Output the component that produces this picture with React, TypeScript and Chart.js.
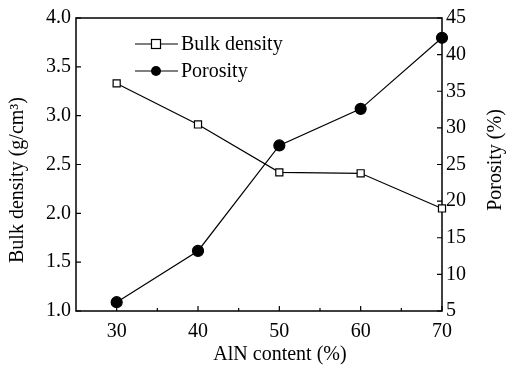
import React, { useEffect, useRef } from "react";
import { Chart, registerables } from "chart.js";

Chart.register(...registerables);

const aln = [30, 40, 50, 60, 70];
const bulkDensity = [3.33, 2.91, 2.42, 2.41, 2.05];
const porosity = [6.2, 13.2, 27.6, 32.6, 42.3];
const leftTicks = [1.0, 1.5, 2.0, 2.5, 3.0, 3.5, 4.0];
const rightTicks = [5, 10, 15, 20, 25, 30, 35, 40, 45];
const xTicks = [30, 40, 50, 60, 70];
const xMinorTicks = [35, 45, 55, 65];

const FONT = "'Liberation Serif', 'Times New Roman', serif";

const framePlugin = {
  id: "frame",
  beforeDatasetsDraw(chart: any) {
    const ctx = chart.ctx;
    const { left, right, top, bottom } = chart.chartArea;
    const sx = chart.scales.x;
    const sy = chart.scales.y;
    const sy2 = chart.scales.y2;
    ctx.save();
    ctx.strokeStyle = "#000";
    ctx.lineWidth = 1.5;
    ctx.strokeRect(left, top, right - left, bottom - top);
    ctx.lineWidth = 1.2;
    ctx.beginPath();
    xTicks.forEach((v) => {
      const x = sx.getPixelForValue(v);
      ctx.moveTo(x, bottom);
      ctx.lineTo(x, bottom - 5);
    });
    xMinorTicks.forEach((v) => {
      const x = sx.getPixelForValue(v);
      ctx.moveTo(x, bottom);
      ctx.lineTo(x, bottom - 3);
    });
    leftTicks.forEach((v) => {
      const y = sy.getPixelForValue(v);
      ctx.moveTo(left, y);
      ctx.lineTo(left + 5, y);
    });
    rightTicks.forEach((v) => {
      const y = sy2.getPixelForValue(v);
      ctx.moveTo(right, y);
      ctx.lineTo(right - 5, y);
    });
    ctx.stroke();

    // legend
    const items = [
      { label: "Bulk density", y: 44, style: "rect", r: 4.5 },
      { label: "Porosity", y: 71, style: "circle", r: 5 },
    ];
    ctx.font = `20px ${FONT}`;
    ctx.textBaseline = "middle";
    ctx.fillStyle = "#000";
    items.forEach((it) => {
      ctx.lineWidth = 1.2;
      ctx.beginPath();
      ctx.moveTo(135, it.y);
      ctx.lineTo(178, it.y);
      ctx.stroke();
      if (it.style === "rect") {
        ctx.fillStyle = "#fff";
        ctx.fillRect(156 - it.r, it.y - it.r, it.r * 2, it.r * 2);
        ctx.strokeRect(156 - it.r, it.y - it.r, it.r * 2, it.r * 2);
      } else {
        ctx.fillStyle = "#000";
        ctx.beginPath();
        ctx.arc(156, it.y, it.r, 0, Math.PI * 2);
        ctx.fill();
      }
      ctx.fillStyle = "#000";
      ctx.textAlign = "left";
      ctx.fillText(it.label, 181, it.y + 1);
    });

    // axis titles
    ctx.textAlign = "center";
    ctx.textBaseline = "middle";
    ctx.fillText("AlN content (%)", 280, 355);
    ctx.save();
    ctx.translate(18, 180);
    ctx.rotate(-Math.PI / 2);
    ctx.fillText("Bulk density (g/cm³)", 0, 0);
    ctx.restore();
    ctx.save();
    ctx.translate(496, 160);
    ctx.rotate(-Math.PI / 2);
    ctx.fillText("Porosity (%)", 0, 0);
    ctx.restore();
    ctx.restore();
  },
};

export default function App() {
  const ref = useRef<HTMLCanvasElement>(null);
  useEffect(() => {
    document.body.style.margin = "0";
    const canvas = ref.current!;
    const tickFont = { family: FONT, size: 20 };
    const chart = new Chart(canvas, {
      type: "line",
      data: {
        datasets: [
          {
            label: "Bulk density",
            data: aln.map((x, i) => ({ x, y: bulkDensity[i] })),
            yAxisID: "y",
            borderColor: "#000",
            borderWidth: 1.2,
            pointStyle: "rect",
            pointRadius: 5,
            pointBackgroundColor: "#fff",
            pointBorderColor: "#000",
            pointBorderWidth: 1.2,
            tension: 0,
            clip: false,
          },
          {
            label: "Porosity",
            data: aln.map((x, i) => ({ x, y: porosity[i] })),
            yAxisID: "y2",
            borderColor: "#000",
            borderWidth: 1.2,
            pointStyle: "circle",
            pointRadius: 5.5,
            pointBackgroundColor: "#000",
            pointBorderColor: "#000",
            tension: 0,
            clip: false,
          },
        ],
      },
      options: {
        animation: false,
        responsive: false,
        devicePixelRatio: 1,
        layout: { padding: { top: 18, left: 0, right: 0, bottom: 0 } },
        plugins: { legend: { display: false }, tooltip: { enabled: false } },
        scales: {
          x: {
            type: "linear",
            min: 25,
            max: 70,
            afterBuildTicks: (s: any) => {
              s.ticks = xTicks.map((v) => ({ value: v }));
            },
            afterFit: (s: any) => {
              s.height = 56;
            },
            grid: { display: false, drawTicks: false },
            border: { display: false },
            ticks: { font: tickFont, color: "#000", padding: 9, maxRotation: 0 },
          },
          y: {
            type: "linear",
            position: "left",
            min: 1,
            max: 4,
            afterBuildTicks: (s: any) => {
              s.ticks = leftTicks.map((v) => ({ value: v }));
            },
            afterFit: (s: any) => {
              s.width = 76;
            },
            grid: { display: false, drawTicks: false },
            border: { display: false },
            ticks: {
              font: tickFont,
              color: "#000",
              padding: 5,
              callback: (v: any) => Number(v).toFixed(1),
            },
          },
          y2: {
            type: "linear",
            position: "right",
            min: 5,
            max: 45,
            afterBuildTicks: (s: any) => {
              s.ticks = rightTicks.map((v) => ({ value: v }));
            },
            afterFit: (s: any) => {
              s.width = 64;
            },
            grid: { display: false, drawTicks: false },
            border: { display: false },
            ticks: { font: tickFont, color: "#000", padding: 4 },
          },
        },
      },
      plugins: [framePlugin],
    } as any);
    return () => chart.destroy();
  }, []);
  return (
    <div style={{ width: 506, height: 367 }}>
      <canvas ref={ref} width={506} height={367} style={{ width: 506, height: 367 }} />
    </div>
  );
}
